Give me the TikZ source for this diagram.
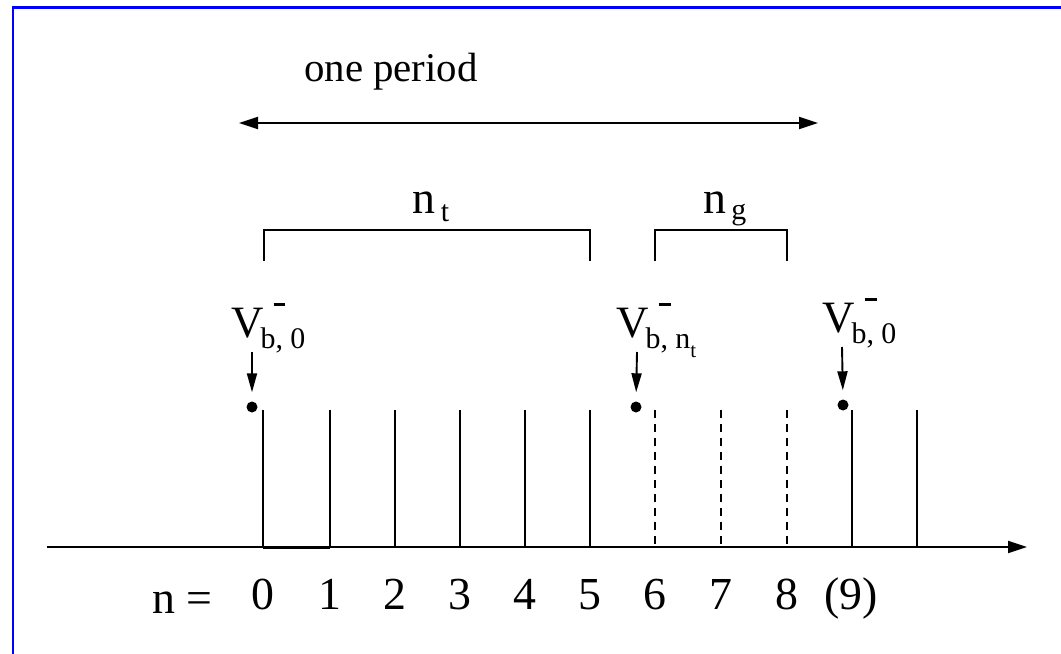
\documentclass[tikz,border=0pt]{standalone}
\usepackage{fontspec}
\setmainfont{Liberation Serif}
\usetikzlibrary{arrows.meta}
\newcommand\Vlab[1]{\fontsize{45}{50}\selectfont V\rlap{\raisebox{31pt}{\hspace{10pt}\rule{12pt}{2.8pt}}}\hspace{-3pt}\raisebox{-12pt}{\fontsize{30}{32}\selectfont #1}}
\begin{document}
\begin{tikzpicture}[x=1bp,y=-1bp,
  every node/.style={inner sep=0pt},
  ln/.style={line width=1.9bp, black},
  arr/.style={ln, -{Triangle[length=19bp,width=12bp]}},
  parr/.style={ln, {Triangle[length=19bp,width=12bp]}-{Triangle[length=19bp,width=12bp]}},
  darr/.style={ln, -{Triangle[length=19bp,width=10bp]}},
  dashtick/.style={ln, dash pattern=on 8bp off 6bp},
  frame/.style={line width=2.5bp, blue},
  dot/.style={circle, fill=black, minimum size=11bp, inner sep=0pt}]
\useasboundingbox (0,0) rectangle (1061,654);
\draw[frame] (13,654) -- (13,7.5) -- (1061,7.5);

% period arrow
\coordinate (pl) at (239,123);
\coordinate (pr) at (818,123);
\draw[parr] (pl) -- (pr);
\node[anchor=base] (per) at (391,82) {\fontsize{41}{45}\selectfont one period};

% brackets
\draw[ln] (264,261) -- (264,230) -- (590,230) -- (590,261);
\draw[ln] (655,261) -- (655,230) -- (787,230) -- (787,261);
\node[anchor=base] (nt) at (431,213) {\fontsize{46}{50}\selectfont n\hspace{5pt}\raisebox{-9pt}{\fontsize{30}{32}\selectfont t}};
\node[anchor=base] (ng) at (725,213) {\fontsize{46}{50}\selectfont n\hspace{5pt}\raisebox{-7pt}{\fontsize{30}{32}\selectfont g}};

% axis
\coordinate (ax0) at (47,547);
\coordinate (ax1) at (1027,547);
\draw[arr] (ax0) -- (ax1);

% ticks
\foreach \x in {263,330,395,460,525,590,852,917} \draw[ln] (\x,547) -- (\x,410);
\foreach \x in {655,721,787} \draw[dashtick] (\x,410) -- (\x,547);
\draw[line width=3.5bp] (263,547.5) -- (330,547.5);

% bottom labels
\node[anchor=base west] (neq) at (152,613) {\fontsize{46}{50}\selectfont n =};
\foreach \i/\x in {0/263,1/330,2/395,3/460,4/525,5/590,6/655,7/721,8/787}
  \node[anchor=base] (d\i) at (\x,609) {\fontsize{46}{50}\selectfont \i};
\node[anchor=base] (d9) at (851,609) {\fontsize{46}{50}\selectfont (9)};

% dots
\node[dot] (p0) at (252,407) {};
\node[dot] (p1) at (636,407) {};
\node[dot] (p2) at (843,405) {};

% V labels
\node[anchor=base west] (v0) at (231,337) {\Vlab{b, 0}};
\node[anchor=base west] (v1) at (616,337) {\Vlab{b, n\raisebox{-9pt}{\fontsize{21}{22}\selectfont t}}};
\node[anchor=base west] (v2) at (822,332) {\Vlab{b, 0}};

\coordinate (a0) at (252,352);
\coordinate (a1) at (637,352);
\coordinate (a2) at (842,347);
\draw[darr, shorten >=9bp] (a0) -- (p0.north);
\draw[darr, shorten >=9bp] (a1) -- (p1.north);
\draw[darr, shorten >=9bp] (a2) -- (p2.north);
\end{tikzpicture}
\end{document}
